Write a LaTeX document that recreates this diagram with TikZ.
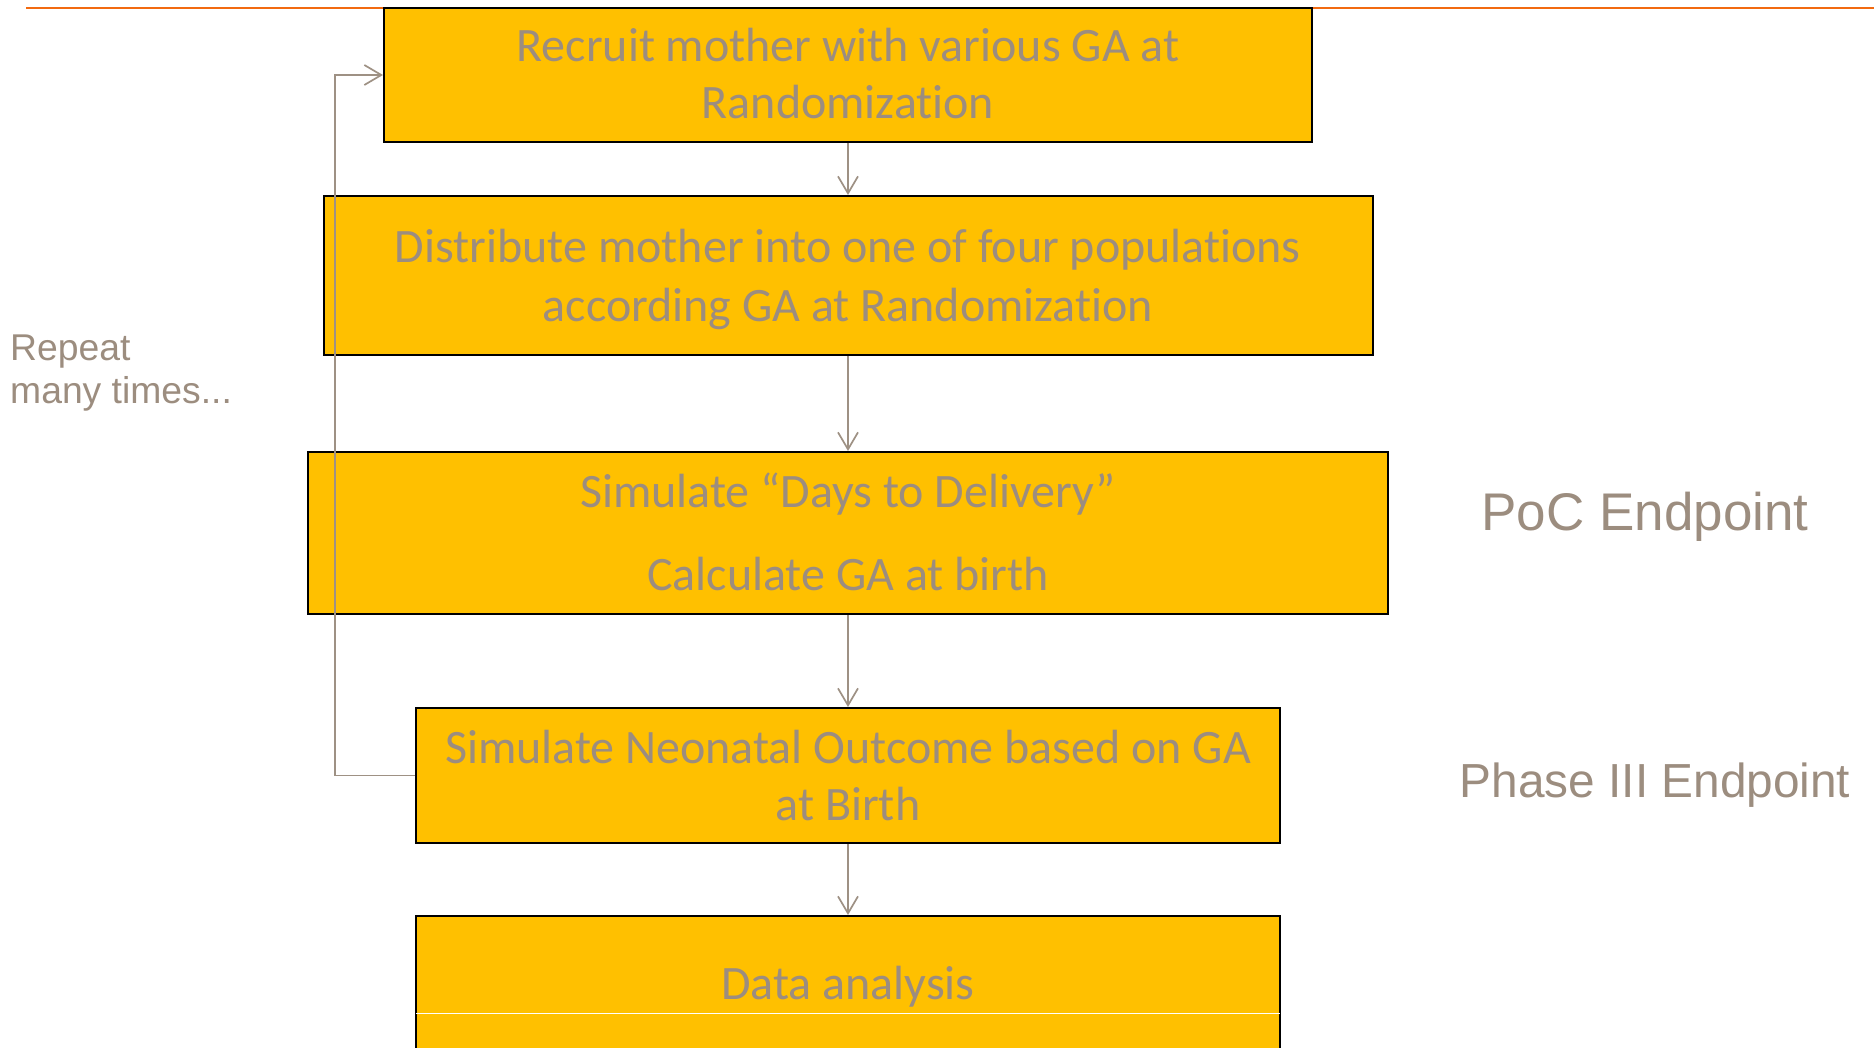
\documentclass[tikz,border=0pt]{standalone}
\usepackage{fontspec}
\setmainfont{Liberation Sans}
\newfontfamily\boxfont[Ligatures=NoCommon]{Carlito}
\usetikzlibrary{arrows.meta}

\definecolor{boxfill}{HTML}{FFC000}
\definecolor{inkgray}{HTML}{9C8D7F}
\definecolor{linkgray}{HTML}{9E9184}
\definecolor{rulecolor}{HTML}{F26A10}

\tikzset{
  stepbox/.style={rectangle, draw=black, line width=2pt, fill=boxfill, inner sep=0pt},
  boxtext/.style={inner sep=0pt, anchor=base, text=inkgray,
    font=\boxfont\fontsize{48pt}{58pt}\selectfont},
  sidetext/.style={inner sep=0pt, anchor=base, text=inkgray,
    font=\fontsize{#1pt}{#1pt}\selectfont},
  link/.style={draw=linkgray, line width=1.7pt,
    -{Straight Barb[length=17pt,width=20pt]}},
  toprule/.style={draw=rulecolor, line width=2.5pt},
}

\begin{document}
\begin{tikzpicture}[x=1pt,y=-1pt]
  \useasboundingbox (0,0) rectangle (1874,1048);
  \clip (0,0) rectangle (1874,1048);

  % heading rule
  \coordinate (rule left) at (26,8);
  \coordinate (rule right) at (1874,8);
  \draw[toprule] (rule left) -- (rule right);

  % process boxes
  \node[stepbox, minimum width=928pt, minimum height=134pt] (b1) at (848,75) {};
  \node[stepbox, minimum width=1049pt, minimum height=159pt] (b2) at (848,275.5) {};
  \node[stepbox, minimum width=1080pt, minimum height=162pt] (b3) at (848,533) {};
  \node[stepbox, minimum width=864pt, minimum height=135pt] (b4) at (848,775.5) {};
  \node[stepbox, minimum width=864pt, minimum height=184pt] (b5) at (848,1008) {};
  \draw[white, line width=1pt] ([yshift=-5pt]b5.west) ++(1pt,0) -- ([yshift=-5pt,xshift=-1pt]b5.east);

  % box captions
  \node[boxtext] (b1a) at (848,62) {Recruit mother with various GA at};
  \node[boxtext] (b1b) at (848,119) {Randomization};
  \node[boxtext] (b2a) at (848,263) {Distribute mother into one of four populations};
  \node[boxtext] (b2b) at (848,322) {according GA at Randomization};
  \node[boxtext] (b3a) at (848,507) {Simulate “Days to Delivery”};
  \node[boxtext] (b3b) at (848,590) {Calculate GA at birth};
  \node[boxtext] (b4a) at (848,763) {Simulate Neonatal Outcome based on GA};
  \node[boxtext] (b4b) at (848,820) {at Birth};
  \node[boxtext] (b5a) at (848,999) {Data analysis};

  % side labels
  \node[sidetext=37.3, anchor=base west] (rep1) at (10,361) {Repeat};
  \node[sidetext=37.3, anchor=base west] (rep2) at (10,403) {many times...};
  \node[sidetext=53] (poc) at (1645,530) {PoC Endpoint};
  \node[sidetext=47.8] (ph3) at (1655,797) {Phase III Endpoint};

  % flow
  \draw[link] (b1.south) -- (b2.north);
  \draw[link] (b2.south) -- (b3.north);
  \draw[link] (b3.south) -- (b4.north);
  \draw[link] (b4.south) -- (b5.north);
  \draw[link] (b4.west) -- ++(-80,0) |- (b1.west);
\end{tikzpicture}
\end{document}
